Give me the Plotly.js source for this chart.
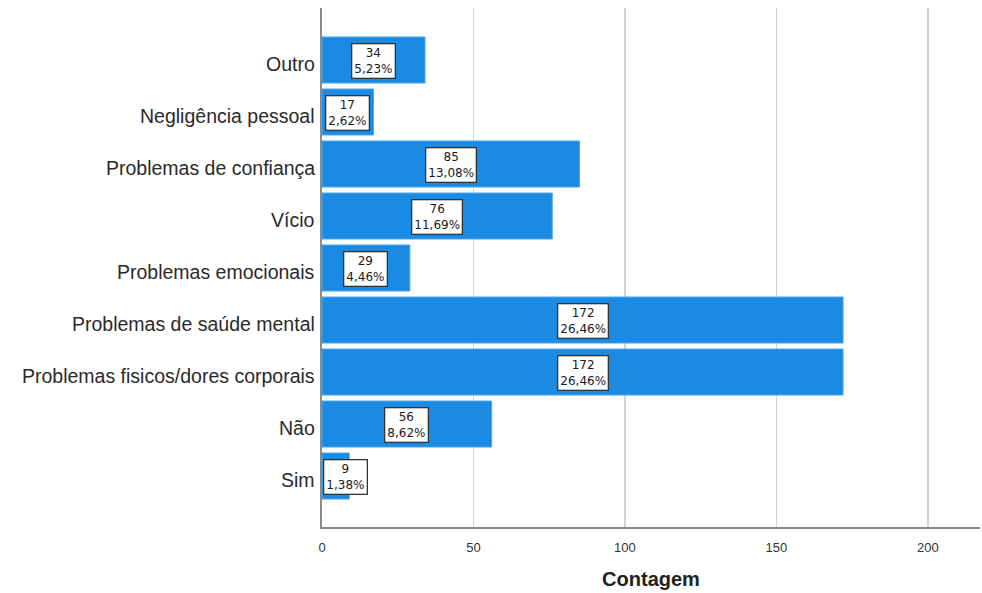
<!DOCTYPE html>
<html>
<head>
<meta charset="utf-8">
<script src="https://cdn.plot.ly/plotly-3.0.1.min.js"></script>
<style>
  html, body { margin: 0; padding: 0; background: #fff; }
  #chart { width: 982px; height: 593px; }
</style>
</head>
<body>
<div id="chart"></div>
<script>
// Categories listed bottom-to-top, as drawn on the category axis
const categorias = [
  'Sim',
  'Não',
  'Problemas fisicos/dores corporais',
  'Problemas de saúde mental',
  'Problemas emocionais',
  'Vício',
  'Problemas de confiança',
  'Negligência pessoal',
  'Outro'
];
const contagens = [9, 56, 172, 172, 29, 76, 85, 17, 34];
const percentuais = ['1,38%', '8,62%', '26,46%', '26,46%', '4,46%', '11,69%', '13,08%', '2,62%', '5,23%'];
const ticksX = [0, 50, 100, 150, 200];

const FONTE = 'Liberation Sans, Arial, sans-serif';

const barra = {
  type: 'bar',
  orientation: 'h',
  y: categorias,
  x: contagens,
  marker: { color: '#1a8ae2', line: { color: '#4aa6ee', width: 1 } },
  hoverinfo: 'x+y'
};

// Value boxes: count and percentage, centred on each bar (kept clear of the axis)
const rotulos = categorias.map((c, i) => {
  const small = contagens[i] < 14;
  return {
    x: small ? 0 : contagens[i] / 2,
    y: c,
    xanchor: small ? 'left' : 'center',
    xshift: small ? 1 : 0,
    yshift: -1,
    text: contagens[i] + '<br>' + percentuais[i],
    showarrow: false,
    font: { family: 'DejaVu Sans, sans-serif', size: 12, color: '#1a1a1a' },
    bgcolor: '#ffffff',
    bordercolor: '#333333',
    borderwidth: 1.3,
    borderpad: 2,
    align: 'center'
  };
});

// Category names, set just left of the axis line
const nomes = categorias.map(c => ({
  xref: 'paper',
  x: 0,
  y: c,
  xanchor: 'right',
  xshift: -5,
  yshift: -4,
  text: c,
  showarrow: false,
  font: { family: FONTE, size: 19.5, color: '#2a2a2a' }
}));

const layout = {
  width: 982,
  height: 593,
  margin: { l: 322, r: 2, t: 8, b: 66 },
  paper_bgcolor: '#ffffff',
  plot_bgcolor: '#ffffff',
  showlegend: false,
  bargap: 0.115,
  font: { family: FONTE, color: '#222' },
  xaxis: {
    range: [0, 217.2],
    tickvals: ticksX,
    ticktext: ticksX.map(String),
    showgrid: true,
    gridcolor: '#d4d4d4',
    gridwidth: 1.5,
    zeroline: false,
    showline: true,
    linecolor: '#8a8a8a',
    linewidth: 2,
    ticks: '',
    ticklabelstandoff: 7,
    tickfont: { size: 13, color: '#333' },
    title: {
      text: 'Contagem',
      font: { size: 20, color: '#222', family: FONTE, weight: 'bold' },
      standoff: 18
    },
    fixedrange: true
  },
  yaxis: {
    type: 'category',
    categoryorder: 'array',
    categoryarray: categorias,
    range: [-0.98, 9.0],
    showgrid: false,
    zeroline: false,
    showline: true,
    linecolor: '#8a8a8a',
    linewidth: 2,
    ticks: '',
    showticklabels: false,
    fixedrange: true
  },
  annotations: nomes.concat(rotulos)
};

Plotly.newPlot('chart', [barra], layout, { displayModeBar: false, staticPlot: true });
</script>
</body>
</html>
